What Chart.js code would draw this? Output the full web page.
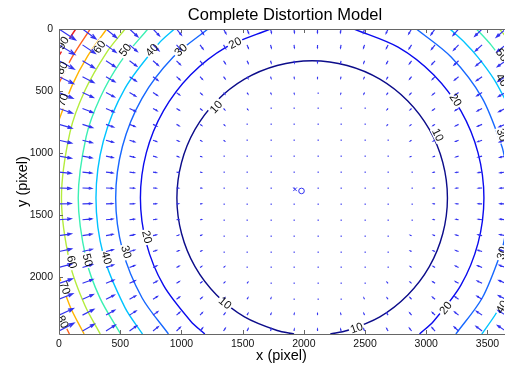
<!DOCTYPE html>
<html>
<head>
  <title>Complete Distortion Model</title>
  <script src="https://cdn.jsdelivr.net/npm/chart.js"></script>
  <style>
    body { margin: 0; background: #fff; }
    canvas { display: block; }
  </style>
</head>
<body>
  <canvas id="distChart" width="509" height="371"></canvas>

  <script>
    // axis ticks (image pixels)
    const xTicks = [0, 500, 1000, 1500, 2000, 2500, 3000, 3500];
    const yTicks = [0, 500, 1000, 1500, 2000];

    // contour levels, each one as [x, y] polylines
    const levels = [10, 20, 30, 40, 50, 60, 70, 80, 90];
    const levelColors = ['#0c0c8a', '#0a0aee', '#1668ff', '#00c4ff', '#3cf0b4', '#b4ec3c', '#ffb400', '#ff621e', '#e82020'];

    const contour10 = [
      [[1920,2456],[1782,2428],[1515,2318],[1287,2142],[1111,1914],[1001,1647],[963,1361],[1001,1075],[1111,809],[1287,580],[1515,404],[1782,294],[2068,256],[2354,294],[2621,404],[2849,580],[3025,809],[3135,1075],[3173,1361],[3135,1647],[3025,1914],[2849,2142],[2621,2318],[2354,2428],[2216,2456]]
    ];
    const contour20 = [
      [[1191,2456],[1076,2353],[853,2063],[713,1724],[665,1361],[713,998],[853,660],[1076,369],[1366,146],[1726,0]],
      [[2410,0],[2770,146],[3060,369],[3283,660],[3423,998],[3471,1361],[3423,1724],[3283,2063],[3060,2353],[2945,2456]]
    ];
    const contour30 = [
      [[894,2456],[678,2164],[518,1776],[463,1361],[518,946],[678,558],[933,226],[1217,0]],
      [[2919,0],[3203,226],[3458,558],[3618,946],[3648,1077]],
      [[3648,1645],[3618,1776],[3458,2164],[3242,2456]]
    ];
    const contour40 = [
      [[682,2456],[539,2244],[362,1818],[302,1361],[362,904],[539,478],[819,112],[943,0]],
      [[3193,0],[3317,112],[3421,226],[3550,399],[3648,573]],
      [[3648,2149],[3566,2297],[3454,2456]]
    ];
    const contour50 = [
      [[503,2456],[336,2169],[222,1856],[157,1361],[222,866],[336,553],[503,264],[726,0]],
      [[3410,0],[3532,132],[3648,287]]
    ];
    const contour60 = [
      [[337,2456],[212,2227],[90,1891],[20,1361],[90,831],[212,495],[391,186],[540,0]],
      [[3598,0],[3648,58]]
    ];
    const contour70 = [
      [[205,2456],[93,2240],[0,1989]],
      [[0,733],[110,448],[235,216],[389,0]]
    ];
    const contour80 = [
      [[85,2456],[0,2286]],
      [[0,436],[106,228],[255,0]]
    ];
    const contour90 = [
      [[0,215],[64,109],[137,0]]
    ];
    const contours = [contour10, contour20, contour30, contour40, contour50, contour60, contour70, contour80, contour90];

    // inline contour labels
    const labelText = ['90','80','70','60','50','40','30','20','10',
                       '20','10','50','40','30','30','40','20','10',
                       '20','30','40','50','60','70','80','10'];
    const labelX = [32, 24, 32, 331, 541, 759, 994, 1438, 1284,
                    3239, 3094, 3619, 3619, 3619, 3619, 3619, 3158, 2431,
                    719, 549, 388, 234, 105, 48, 32, 1357];
    const labelY = [113, 314, 572, 145, 169, 169, 169, 113, 628,
                    572, 853, 209, 411, 853, 1804, 2238, 2246, 2407,
                    1675, 1795, 1844, 1860, 1876, 2085, 2359, 2206];
    const labelRot = [-58, -63, -69, -55, -52, -48, -42, -27, -47,
                      56, 64, 53, 58, 72, -74, -60, -51, -19,
                      77, 74, 74, 75, 75, 70, 64, 40];

    // quiver grid and distortion size vs distance from the centre of the rings
    const gridX = [0,192,384,576,768,960,1152,1344,1536,1728,1920,2112,2304,2496,2688,2880,3072,3264,3456,3648];
    const gridY = [0,128,256,384,512,640,768,896,1024,1152,1280,1408,1536,1664,1792,1920,2048,2176,2304,2432];
    const ringCenter = [2068, 1361];
    const radialR = [0, 550, 1105, 1403, 1605, 1766, 1911, 2048, 2161, 2266, 2363];
    const radialMag = [0, 1.3, 10, 20, 30, 40, 50, 60, 70, 80, 90];

    // image centre (x) and principal point (o)
    const imageCenter = [1928, 1291];
    const principalPoint = [1981, 1304];

    const FONT = '"Liberation Sans", Arial, sans-serif';
    const ARROW = '#3232f0';

    function magAt(r) {
      let i = 1;
      while (i < radialR.length - 1 && r > radialR[i]) i++;
      const r0 = radialR[i - 1], r1 = radialR[i];
      return radialMag[i - 1] + (radialMag[i] - radialMag[i - 1]) * (r - r0) / (r1 - r0);
    }

    const datasets = [];
    contours.forEach((segs, li) => {
      segs.forEach(seg => {
        datasets.push({
          data: seg.map(p => ({ x: p[0], y: p[1] })),
          showLine: true,
          borderColor: levelColors[li],
          borderWidth: 1.4,
          pointRadius: 0,
          tension: 0.3,
          fill: false
        });
      });
    });
    datasets.push({
      data: [{ x: imageCenter[0], y: imageCenter[1] }],
      pointStyle: 'crossRot', pointRadius: 2.5, borderColor: ARROW, borderWidth: 1
    });
    datasets.push({
      data: [{ x: principalPoint[0], y: principalPoint[1] }],
      pointStyle: 'circle', pointRadius: 2.8, borderColor: ARROW, backgroundColor: 'rgba(0,0,0,0)', borderWidth: 1
    });

    const overlay = {
      id: 'overlay',
      afterDatasetsDraw(chart) {
        const { ctx, chartArea: a, scales: { x, y } } = chart;
        ctx.save();
        ctx.beginPath();
        ctx.rect(a.left, a.top, a.right - a.left, a.bottom - a.top);
        ctx.clip();

        // gaps in the contour lines under the labels
        ctx.font = '11.5px ' + FONT;
        labelText.forEach((t, i) => {
          const w = ctx.measureText(t).width;
          ctx.save();
          ctx.translate(x.getPixelForValue(labelX[i]), y.getPixelForValue(labelY[i]));
          ctx.rotate(labelRot[i] * Math.PI / 180);
          ctx.fillStyle = '#fff';
          ctx.fillRect(-w / 2 - 1.5, -5, w + 3, 10);
          ctx.restore();
        });

        // arrows
        ctx.strokeStyle = ARROW;
        ctx.fillStyle = ARROW;
        ctx.lineWidth = 1.15;
        gridY.forEach(gy => gridX.forEach(gx => {
          const dx = ringCenter[0] - gx, dy = ringCenter[1] - gy;
          const r = Math.hypot(dx, dy) || 1;
          const len = 1.6 * magAt(r);
          const x0 = x.getPixelForValue(gx), y0 = y.getPixelForValue(gy);
          const x1 = x.getPixelForValue(gx + dx / r * len), y1 = y.getPixelForValue(gy + dy / r * len);
          const du = x1 - x0, dv = y1 - y0;
          if (Math.hypot(du, dv) < 1.2) {
            ctx.globalAlpha = 0.8;
            ctx.fillRect(Math.round(x0) - 0.5, Math.round(y0) - 0.5, 1.4, 1.4);
            ctx.globalAlpha = 1;
            return;
          }
          const al = 0.33, be = 0.33;
          ctx.beginPath();
          ctx.moveTo(x0, y0);
          ctx.lineTo(x1, y1);
          ctx.moveTo(x1 - al * (du + be * dv), y1 - al * (dv - be * du));
          ctx.lineTo(x1, y1);
          ctx.lineTo(x1 - al * (du - be * dv), y1 - al * (dv + be * du));
          ctx.stroke();
        }));

        // label text
        ctx.fillStyle = '#111';
        ctx.textAlign = 'center';
        ctx.textBaseline = 'middle';
        labelText.forEach((t, i) => {
          ctx.save();
          ctx.translate(x.getPixelForValue(labelX[i]), y.getPixelForValue(labelY[i]));
          ctx.rotate(labelRot[i] * Math.PI / 180);
          ctx.fillText(t, 0, 0.5);
          ctx.restore();
        });
        ctx.restore();

        // box and inward ticks
        ctx.save();
        ctx.strokeStyle = '#666';
        ctx.lineWidth = 1;
        ctx.beginPath();
        ctx.moveTo(a.right + 1, a.top + 0.5);
        ctx.lineTo(a.left + 0.5, a.top + 0.5);
        ctx.lineTo(a.left + 0.5, a.bottom + 0.5);
        ctx.lineTo(a.right + 1, a.bottom + 0.5);
        xTicks.forEach(v => {
          const px = Math.round(x.getPixelForValue(v)) + 0.5;
          ctx.moveTo(px, a.bottom); ctx.lineTo(px, a.bottom - 4);
          ctx.moveTo(px, a.top); ctx.lineTo(px, a.top + 4);
        });
        yTicks.forEach(v => {
          const py = Math.round(y.getPixelForValue(v)) + 0.5;
          ctx.moveTo(a.left, py); ctx.lineTo(a.left + 4, py);
        });
        ctx.stroke();

        // title
        ctx.fillStyle = '#000';
        ctx.font = '16.5px ' + FONT;
        ctx.textAlign = 'center';
        ctx.textBaseline = 'alphabetic';
        ctx.fillText('Complete Distortion Model', (a.left + 511) / 2, 20);
        ctx.restore();
      }
    };

    const ctx = document.getElementById('distChart').getContext('2d');
    const distChart = new Chart(ctx, {
      type: 'scatter',
      data: { datasets },
      options: {
        responsive: false,
        animation: false,
        layout: { padding: { top: 29, right: 0, bottom: 0, left: 0 } },
        plugins: { legend: { display: false }, tooltip: { enabled: false }, title: { display: false } },
        scales: {
          x: {
            type: 'linear', min: 0, max: 3635,
            afterBuildTicks: s => { s.ticks = xTicks.map(v => ({ value: v })); },
            afterFit: s => { s.height = 37; },
            ticks: { color: '#111', font: { family: FONT, size: 10.5 }, padding: 4, maxRotation: 0, autoSkip: false, callback: v => String(v) },
            grid: { display: false, drawTicks: false },
            border: { display: false },
            title: { display: true, text: 'x (pixel)', color: '#000', font: { family: FONT, size: 14.5 }, padding: { top: 0, bottom: 6 } }
          },
          y: {
            type: 'linear', min: 0, max: 2456, reverse: true,
            afterBuildTicks: s => { s.ticks = yTicks.map(v => ({ value: v })); },
            afterFit: s => { s.width = 59; },
            ticks: { color: '#111', font: { family: FONT, size: 10.5 }, padding: 6, autoSkip: false, callback: v => String(v) },
            grid: { display: false, drawTicks: false },
            border: { display: false },
            title: { display: true, text: 'y (pixel)', color: '#000', font: { family: FONT, size: 14.5 }, padding: { top: 14, bottom: 0 } }
          }
        }
      },
      plugins: [overlay]
    });
  </script>
</body>
</html>
